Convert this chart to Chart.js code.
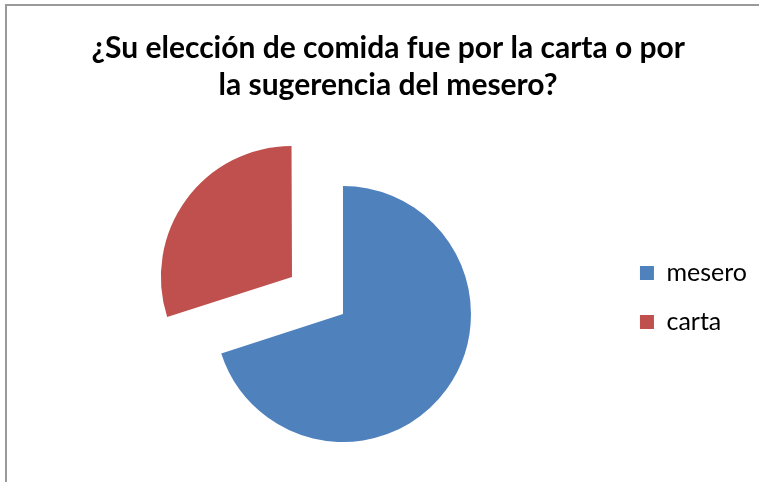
<!DOCTYPE html>
<html>
<head>
<meta charset="utf-8">
<script src="https://cdn.jsdelivr.net/npm/chart.js@4/dist/chart.umd.min.js"></script>
<style>
  html, body { margin: 0; padding: 0; background: #fff; }
  #marco { position: absolute; left: 5px; top: 4px; width: 800px; height: 600px;
           border-left: 2px solid #9a9a9a; border-top: 2px solid #9a9a9a; }
  #zona { position: absolute; left: 0; top: 0; width: 759px; height: 482px; }
</style>
</head>
<body>
<div id="marco"></div>
<div id="zona"><canvas id="pastel" width="759" height="482"></canvas></div>
<script>
// datos de la encuesta
const categorias = ['mesero', 'carta'];
const valores = [70, 30];
const colores = ['#4F81BD', '#C0504D'];
const titulo = ['¿Su elección de comida fue por la carta o por', 'la sugerencia del mesero?'];

window.addEventListener('load', grafico);

function grafico() {
    let ctx = document.getElementById('pastel').getContext('2d');
    // espacios al final para correr el titulo a la izquierda (la leyenda ocupa la derecha)
    let relleno = '\u00A0'.repeat(7);
    let graf = new Chart(ctx, {
        type: 'pie',
        data: {
            labels: categorias,
            datasets: [{
                data: valores,
                backgroundColor: colores,
                borderWidth: 0,
                // la porción "carta" va separada del resto
                offset: [0, 252],
                radius: 128
            }]
        },
        options: {
            responsive: false,
            animation: false,
            events: [],
            layout: { padding: { left: 70, right: 2, top: 0, bottom: 4 } },
            plugins: {
                tooltip: { enabled: false },
                title: {
                    display: true,
                    text: titulo.map(t => t + relleno),
                    color: '#000',
                    font: { family: 'Lato', size: 30, weight: 'bold', lineHeight: 1.26 },
                    padding: { top: 29, bottom: 45.4 }
                },
                legend: {
                    position: 'right',
                    align: 'start',
                    fullSize: false,
                    title: { display: true, text: '', font: { size: 10, lineHeight: 1.2 }, padding: { top: 74.5, bottom: 0 } },
                    labels: {
                        color: '#000',
                        font: { family: 'Lato', size: 25 },
                        boxWidth: 14,
                        boxHeight: 14,
                        padding: 24
                    }
                }
            }
        }
    });
}
</script>
</body>
</html>
